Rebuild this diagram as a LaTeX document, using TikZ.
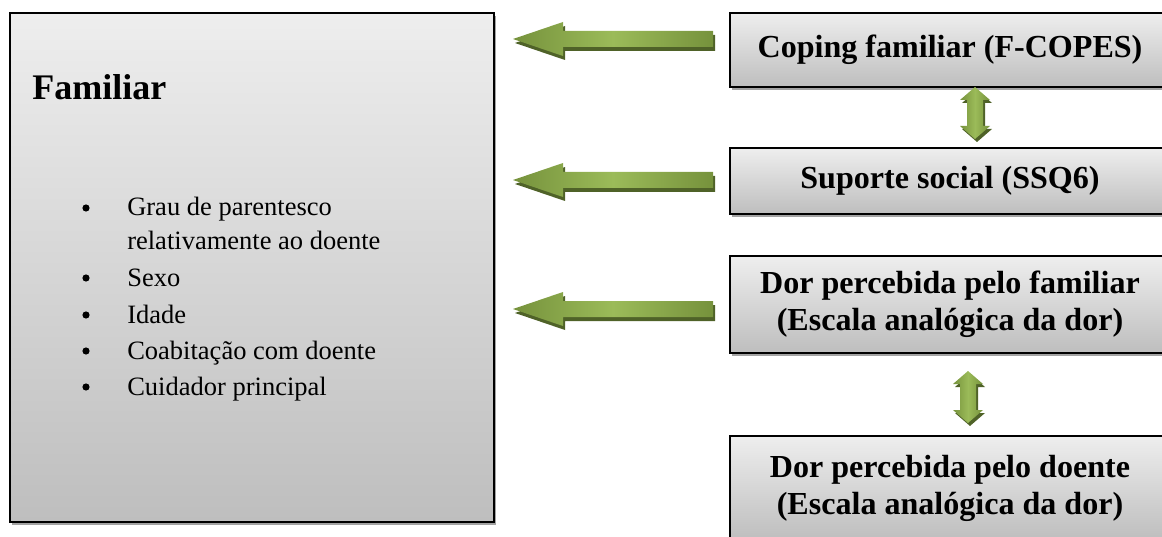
\documentclass[tikz,border=0pt]{standalone}
\usepackage{fontspec}
\setmainfont{Liberation Serif}
\usetikzlibrary{calc, shadows}
\definecolor{boxTop}{HTML}{EEEEEE}
\definecolor{boxBottom}{HTML}{BEBEBE}
\definecolor{boxShadow}{HTML}{A3A3A3}
\definecolor{arrowLight}{HTML}{9BBB59}
\definecolor{arrowDark}{HTML}{76923C}
\definecolor{arrowShadow}{HTML}{4F6228}

\begin{document}
\begin{tikzpicture}[x=0.025cm, y=-0.025cm,
    panel/.style={rectangle, draw=black, line width=1.3pt, top color=boxTop, bottom color=boxBottom,
        drop shadow={fill=boxShadow, opacity=1, shadow xshift=1.2pt, shadow yshift=-2.4pt}},
    measure/.style={panel, minimum width=11cm, align=center, font=\fontsize{22.8}{26.3}\selectfont\bfseries},
    heading/.style={anchor=base west, inner sep=0pt, font=\fontsize{25.6}{30}\selectfont\bfseries},
    entry/.style={anchor=base west, inner sep=0pt, font=\fontsize{18.85}{22}\selectfont},
    bullet/.style={circle, fill=black, minimum size=0.18cm, inner sep=0pt},
    leftarrow/.pic={
        \fill[arrowShadow, shift={(2,4)}] (200,-8) -- (50,-8) -- (50,-17) -- (0,0) -- (50,17) -- (50,8) -- (200,8) -- cycle;
        \shade[left color=arrowDark, right color=arrowDark, middle color=arrowLight]
            (200,-8) -- (50,-8) -- (50,-17) -- (0,0) -- (50,17) -- (50,8) -- (200,8) -- cycle;
    },
    swaparrow/.pic={
        \fill[arrowShadow, shift={(2,3)}] (0,-26) -- (15,-13) -- (8,-13) -- (8,13) -- (15,13) -- (0,26)
            -- (-15,13) -- (-8,13) -- (-8,-13) -- (-15,-13) -- cycle;
        \shade[left color=arrowDark, right color=arrowDark, middle color=arrowLight]
            (0,-26) -- (15,-13) -- (8,-13) -- (8,13) -- (15,13) -- (0,26)
            -- (-15,13) -- (-8,13) -- (-8,-13) -- (-15,-13) -- cycle;
    }
]
    \useasboundingbox (0,0) rectangle (1162,537);

    % left panel
    \node[panel, minimum width=12.1cm, minimum height=12.725cm] (familiar) at (252,267.5) {};
    \node[heading] (famtitle) at (32,100) {Familiar};
    \node[entry] (grau) at (127,216) {Grau de parentesco};
    \node[entry] (relat) at (127,250) {relativamente ao doente};
    \node[entry] (sexo) at (127,286) {Sexo};
    \node[entry] (idade) at (127,323) {Idade};
    \node[entry] (coab) at (127,359) {Coabitação com doente};
    \node[entry] (cuid) at (127,395) {Cuidador principal};
    \foreach \by in {216,286,323,359,395}
        \node[bullet] (dot\by) at (86,{\by-8}) {};

    % measures on the right
    \node[measure, minimum height=1.85cm] (coping) at (950,50) {Coping familiar (F-COPES)};
    \node[measure, minimum height=1.65cm] (suporte) at (950,181) {Suporte social (SSQ6)};
    \node[measure, minimum height=2.425cm] (dorfam) at (950,304.5) {Dor percebida pelo familiar\\(Escala analógica da dor)};
    \node[measure, minimum height=2.6cm] (dordoe) at (950,488) {Dor percebida pelo doente\\(Escala analógica da dor)};

    % arrows
    \foreach \ay in {39,180,309}
        \pic at (513,\ay) {leftarrow};
    \pic at (975,113) {swaparrow};
    \pic at (968,397) {swaparrow};
\end{tikzpicture}
\end{document}
